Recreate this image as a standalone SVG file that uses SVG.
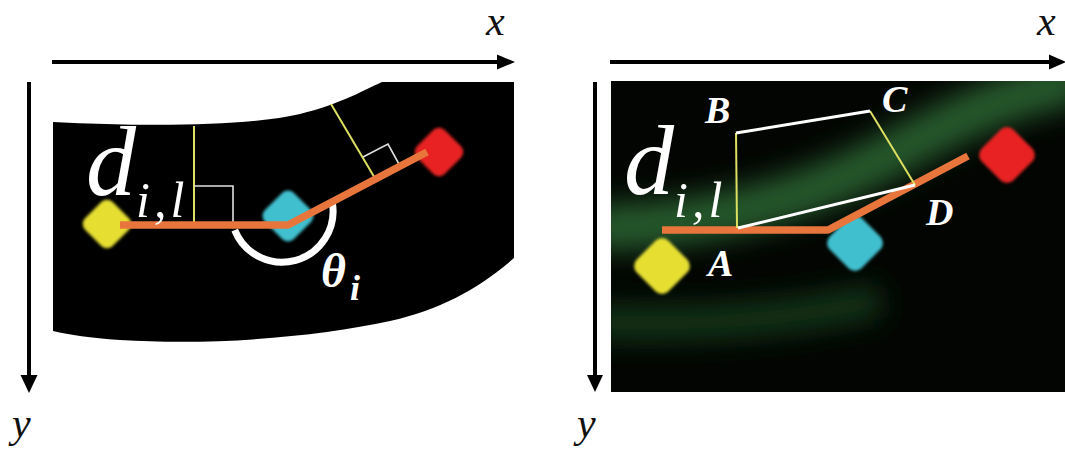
<svg xmlns="http://www.w3.org/2000/svg" width="1065" height="453" viewBox="0 0 1065 453">
<style>
.axis{stroke:#000;stroke-width:4;fill:none}
.ah{fill:#000}
.axl{font-family:"Liberation Serif","Times New Roman",serif;font-style:italic;font-size:42px;fill:#111}
.orange{stroke:#e8763c;stroke-width:7.5;fill:none;stroke-linejoin:round}
.yl{stroke:#dde060;stroke-width:2;fill:none}
.wl{stroke:#fff;stroke-width:3;fill:none}
.sq{stroke:#e0e0e0;stroke-width:1.6;fill:none}
.dtxt{font-family:"Liberation Serif","Times New Roman",serif;font-style:italic;fill:#fff}
.lbl{font-family:"Liberation Serif","Times New Roman",serif;font-style:italic;font-weight:bold;font-size:38px;fill:#fff}
</style>
<defs>
<rect id="blob" x="-19.5" y="-19.5" width="39" height="39" rx="8" transform="rotate(45)"/>
<filter id="soft" x="-30%" y="-30%" width="160%" height="160%"><feGaussianBlur stdDeviation="1.6"/></filter>
<filter id="glow" x="-20%" y="-50%" width="140%" height="200%"><feGaussianBlur stdDeviation="14"/></filter>
<clipPath id="rclip"><rect x="611" y="81" width="454" height="311"/></clipPath>
</defs>
<rect width="1065" height="453" fill="#fff"/>

<!-- axes -->
<g id="axes">
<line class="axis" x1="52" y1="62" x2="500" y2="62"/>
<polygon class="ah" points="515,62 497,54.5 497,69.5"/>
<line class="axis" x1="29" y1="82" x2="29" y2="378"/>
<polygon class="ah" points="29,393 20.5,375 37.5,375"/>
<text class="axl" x="486" y="35">x</text>
<text class="axl" x="12" y="437">y</text>
<line class="axis" x1="610" y1="62" x2="1050" y2="62"/>
<polygon class="ah" points="1066,62 1049,54.5 1049,69.5"/>
<line class="axis" x1="595" y1="82" x2="595" y2="376"/>
<polygon class="ah" points="595,392 587,375 603,375"/>
<text class="axl" x="1037" y="35">x</text>
<text class="axl" x="577" y="437">y</text>
</g>

<!-- left panel -->
<g id="left-panel">
<path d="M 53 122 C 150 127 250 126 300 114 C 340 104 360 92 382 82 L 514 82 L 514 258 C 480 288 440 310 390 321 C 320 336 220 346 120 340 C 90 338 70 335 53 331 Z" fill="#000"/>
<g id="left-connectors">
<line class="yl" x1="194" y1="126" x2="194" y2="225"/>
<polyline class="sq" points="194,186 233,186 233,222"/>
<line class="yl" x1="331" y1="104" x2="376" y2="180"/>
<polyline class="sq" points="363,157 388,144 400,166"/>
<path d="M 234.7 230.1 A 51 51 0 0 0 332.4 203" stroke="#fff" stroke-width="7" fill="none"/>
</g>
<g id="left-yellow" transform="translate(107,224)"><use href="#blob" fill="#e6df33" filter="url(#soft)"/></g>
<g id="left-cyan" transform="translate(288,216) scale(1.05)"><use href="#blob" fill="#3fbfcf" filter="url(#soft)"/></g>
<g id="left-red" transform="translate(439,152)"><use href="#blob" fill="#e82424" filter="url(#soft)"/></g>
<polyline class="orange" points="120,225 288,225 427,152"/>
<text class="dtxt" x="86" y="195" font-size="100">d</text>
<text class="dtxt" x="136" y="217" font-size="50" letter-spacing="4">i,l</text>
<text class="dtxt" x="321" y="287" font-size="48" font-weight="bold">θ</text>
<text class="dtxt" x="350" y="300" font-size="36" font-weight="bold">i</text>
</g>

<!-- right panel -->
<g id="right-panel">
<rect x="611" y="81" width="454" height="311" fill="#020502"/>
<g clip-path="url(#rclip)" filter="url(#glow)">
<path d="M 590 228 C 700 226 790 205 870 165 C 930 135 980 100 1080 80" stroke="#2f7038" stroke-width="46" fill="none" opacity="0.8"/>
<path d="M 590 322 C 680 326 780 322 880 300" stroke="#1f4f27" stroke-width="34" fill="none" opacity="0.65"/>
</g>
<g id="right-yellow" transform="translate(662,266) scale(1.15)"><use href="#blob" fill="#e6df33" filter="url(#soft)"/></g>
<g id="right-cyan" transform="translate(855,243) scale(1.15)"><use href="#blob" fill="#3fbfcf" filter="url(#soft)"/></g>
<g id="right-red" transform="translate(1007,155) scale(1.15)"><use href="#blob" fill="#e82424" filter="url(#soft)"/></g>
<polyline class="orange" points="662,230 828,230 968,156"/>
<g id="right-connectors">
<line class="yl" x1="736" y1="133" x2="737" y2="228"/>
<line class="yl" x1="870" y1="111" x2="915" y2="185"/>
<line class="wl" x1="736" y1="133" x2="870" y2="111"/>
<line class="wl" x1="738" y1="228" x2="915" y2="185"/>
</g>
<text class="dtxt" x="624" y="194" font-size="100" fill="#eef8ee">d</text>
<text class="dtxt" x="674" y="217" font-size="50" letter-spacing="4" fill="#eef8ee">i,l</text>
<text class="lbl" x="705" y="123">B</text>
<text class="lbl" x="882" y="112">C</text>
<text class="lbl" x="926" y="225">D</text>
<text class="lbl" x="708" y="276">A</text>
</g>
</svg>
